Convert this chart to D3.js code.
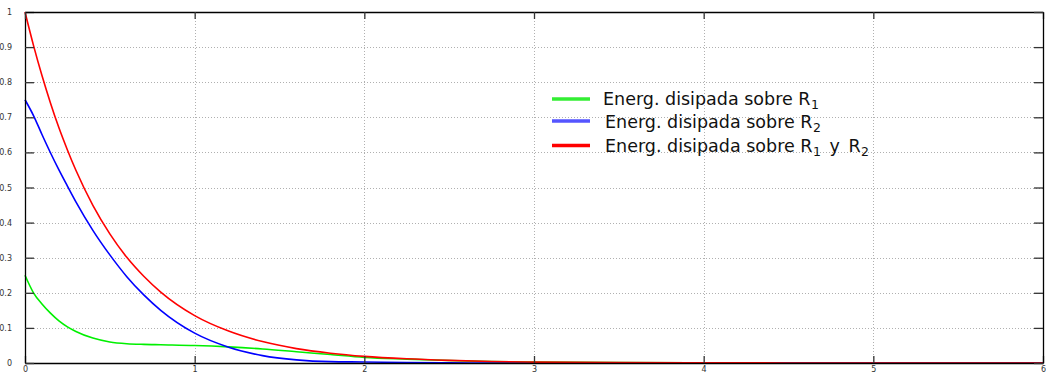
<!DOCTYPE html>
<html><head><meta charset="utf-8">
<script src="https://cdn.jsdelivr.net/npm/d3@7"></script>
<style>body{margin:0;background:#fff}svg{display:block}</style>
</head><body>
<svg id="c" width="1046" height="374"></svg>
<script>
const tValues = [0,0.05,0.1,0.15,0.2,0.25,0.3,0.4,0.5,0.6,0.7,0.8,1.0,1.2,1.4,1.6,1.8,2.0,2.25,2.5,2.75,3,3.5,4,5,6];
const greenR1 = [0.25,0.2,0.168,0.142,0.12,0.103,0.09,0.071,0.06,0.055,0.053,0.052,0.05,0.046,0.04,0.032,0.024,0.016,0.011,0.007,0.004,0.0025,0.001,0.0004,0.0001,0];
const blueR2  = [0.75,0.705,0.651,0.599,0.55,0.504,0.459,0.378,0.308,0.246,0.194,0.15,0.085,0.045,0.021,0.009,0.004,0.003,0.001,0.0004,0.0001,0,0,0,0,0];
const redTotal= [1,0.905,0.819,0.741,0.670,0.607,0.549,0.449,0.368,0.301,0.247,0.202,0.135,0.091,0.061,0.041,0.028,0.019,0.012,0.0074,0.0041,0.0025,0.001,0.0004,0.0001,0];
const xTicks = [0,1,2,3,4,5,6];
const yTicks = [0,0.1,0.2,0.3,0.4,0.5,0.6,0.7,0.8,0.9,1];
const legendLabel = "Energ. disipada sobre ";
const series = [
  {subs:[["R","1"]], values: greenR1, color:"#00f000", legendColor:"#33ee33"},
  {subs:[["R","2"]], values: blueR2, color:"#0000ff", legendColor:"#5555ff"},
  {subs:[["R","1"],["R","2"]], values: redTotal, color:"#ff0000", legendColor:"#ff0000"}
];

const svg = d3.select("#c");
const L=25, R=1043, T=12, B=363;
const x = d3.scaleLinear().domain([0,6]).range([L,R]);
const y = d3.scaleLinear().domain([0,1]).range([B,T]);

// grid
const g = svg.append("g");
g.selectAll(".gx").data(xTicks.slice(1,-1)).join("line")
  .attr("x1",d=>Math.round(x(d))+0.5).attr("x2",d=>Math.round(x(d))+0.5)
  .attr("y1",T).attr("y2",B).attr("stroke","#b0b0b0").attr("stroke-dasharray","1,2");
g.selectAll(".gy").data(yTicks.slice(1,-1)).join("line")
  .attr("y1",d=>Math.round(y(d))+0.5).attr("y2",d=>Math.round(y(d))+0.5)
  .attr("x1",L).attr("x2",R).attr("stroke","#b0b0b0").attr("stroke-dasharray","1,2");

// curves
const line = d3.line().x((d,i)=>x(tValues[i])).y(d=>y(d)).curve(d3.curveMonotoneX);
series.forEach(s=>{
  svg.append("path").attr("d",line(s.values)).attr("fill","none")
    .attr("stroke",s.color).attr("stroke-width",1.6);
});

// axes
const axB = d3.axisBottom(x).tickValues(xTicks).tickSizeInner(-7).tickSizeOuter(0).tickPadding(3).tickFormat(d3.format("d"));
const axL = d3.axisLeft(y).tickValues(yTicks).tickSizeInner(-9).tickSizeOuter(0).tickPadding(13).tickFormat(d=>d3.format("~g")(d));
const axT = d3.axisTop(x).tickValues(xTicks).tickSizeInner(-7).tickSizeOuter(0).tickFormat("");
const axR = d3.axisRight(y).tickValues(yTicks).tickSizeInner(-9).tickSizeOuter(0).tickFormat("");
function style(sel){
  sel.select(".domain").attr("stroke","#000").attr("stroke-width",1.3);
  sel.selectAll(".tick line").attr("stroke","#333").attr("stroke-width",1.3);
  sel.selectAll("text").attr("font-family","DejaVu Sans").attr("font-size",8).attr("fill","#333");
}
svg.append("g").attr("transform",`translate(0,${B})`).call(axB).call(style);
svg.append("g").attr("transform",`translate(${L},0)`).call(axL).call(style);
svg.append("g").attr("transform",`translate(0,${T})`).call(axT).call(style);
svg.append("g").attr("transform",`translate(${R},0)`).call(axR).call(style);

// legend
const leg = svg.append("g");
const lineY = [99,121,145.5];
const baseY = [105,128,152];
const textX = [603,605,605];
series.forEach((s,i)=>{
  leg.append("line").attr("x1",552).attr("x2",590).attr("y1",lineY[i]).attr("y2",lineY[i])
    .attr("stroke",s.legendColor).attr("stroke-width",3.5);
  const t = leg.append("text").attr("x",textX[i]).attr("y",baseY[i])
    .attr("font-family","DejaVu Sans").attr("font-size",17.5).attr("fill","#111");
  t.append("tspan").text(legendLabel);
  s.subs.forEach((p,k)=>{
    if(k>0) t.append("tspan").text(" y ").attr("dy",-4).attr("dx",3);
    t.append("tspan").text(p[0]).attr("dx",k>0?3:0);
    t.append("tspan").text(p[1]).attr("font-size",12.5).attr("dy",4).attr("dx",0.5);
  });
});
</script>
</body></html>
